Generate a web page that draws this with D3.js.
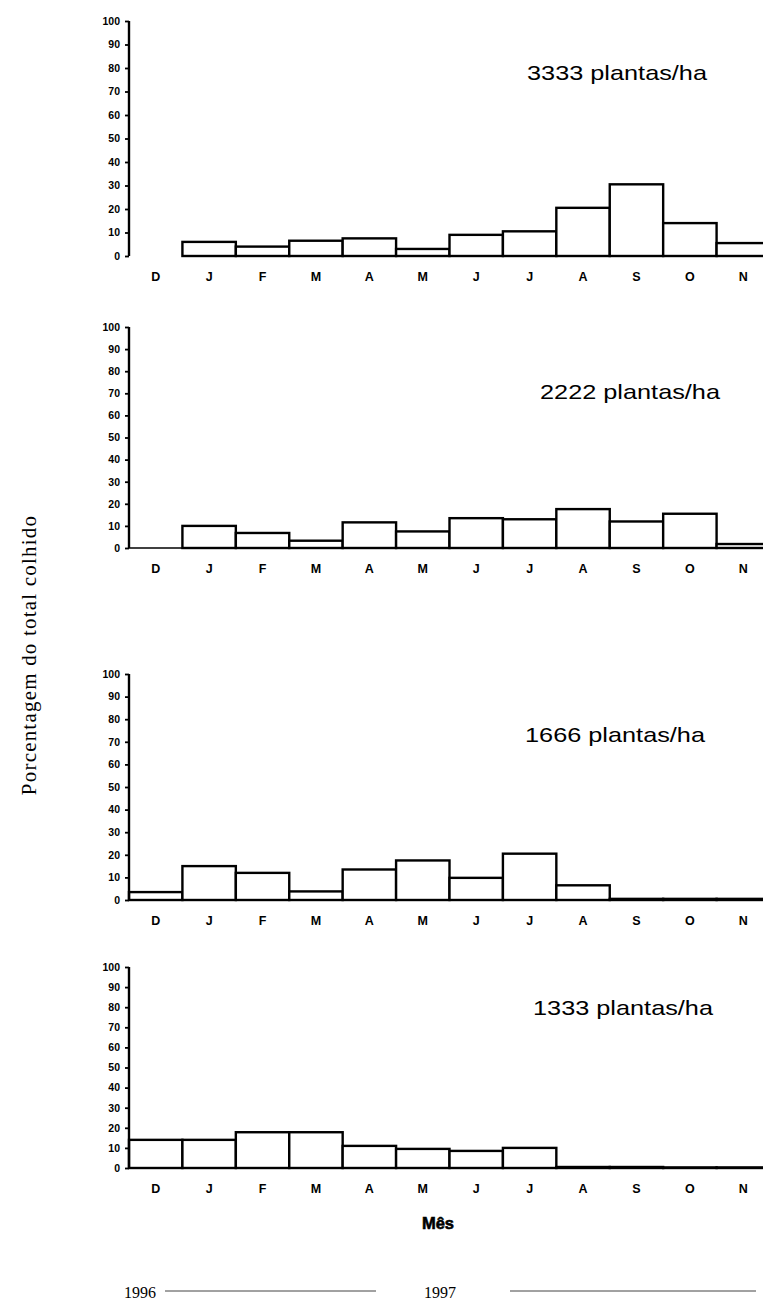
<!DOCTYPE html>
<html>
<head>
<meta charset="utf-8">
<script src="https://cdn.jsdelivr.net/npm/d3@7"></script>
<style>
  body { margin: 0; background: #fff; }
  text { fill: #000; }
</style>
</head>
<body>
<svg id="chart" width="763" height="1305"></svg>
<script>
// data (% of total harvested per month)
const months = ["D", "J", "F", "M", "A", "M", "J", "J", "A", "S", "O", "N"];
const densities = ["3333 plantas/ha", "2222 plantas/ha", "1666 plantas/ha", "1333 plantas/ha"];
const pct3333 = [0, 6, 4, 6.5, 7.5, 3, 9, 10.5, 20.5, 30.5, 14, 5.5];
const pct2222 = [0, 10, 6.8, 3.3, 11.6, 7.5, 13.5, 13, 17.6, 12, 15.5, 1.8];
const pct1666 = [3.5, 15, 12, 3.8, 13.5, 17.5, 9.8, 20.5, 6.5, 0.5, 0.5, 0.5];
const pct1333 = [14, 14, 17.8, 17.8, 11, 9.5, 8.5, 10, 0.5, 0.5, 0.3, 0.3];
const yTicks = [0, 10, 20, 30, 40, 50, 60, 70, 80, 90, 100];
const years = ["1996", "1997"];

const series = [pct3333, pct2222, pct1666, pct1333];

// vertical placement of each panel (y of 100 and of 0), title position
const panels = [
  { top: 21, bottom: 256, titleX: 617, titleY: 80 },
  { top: 327, bottom: 548, titleX: 630, titleY: 399 },
  { top: 674, bottom: 900, titleX: 615, titleY: 742 },
  { top: 967, bottom: 1168, titleX: 623, titleY: 1015 }
];

const axisX = 129,
  rightX = 770,
  labelFont = "Liberation Sans, Arial, sans-serif",
  serifFont = "Liberation Serif, Times New Roman, serif";

const svg = d3.select("#chart");

const x = d3.scaleBand()
  .domain(d3.range(months.length))
  .range([axisX, rightX]);

panels.forEach((p, i) => {
  const values = series[i];
  const y = d3.scaleLinear().domain([0, 100]).range([p.bottom, p.top]);
  const g = svg.append("g");

  // baseline (none under the empty December of the first panel)
  g.append("line")
    .attr("x1", i === 0 ? x(1) : axisX).attr("x2", rightX)
    .attr("y1", y(0)).attr("y2", y(0))
    .attr("stroke", "#000")
    .attr("stroke-width", 1.5);

  // bars
  g.append("g")
    .selectAll("rect")
    .data(values.map((v, k) => ({ v, k })).filter(d => d.v > 0))
    .join("rect")
    .attr("x", d => x(d.k))
    .attr("y", d => y(d.v))
    .attr("width", x.bandwidth())
    .attr("height", d => y(0) - y(d.v))
    .attr("fill", "#fff")
    .attr("stroke", "#000")
    .attr("stroke-width", 2.4);

  // y axis
  const yAxis = d3.axisLeft(y).tickValues(yTicks).tickSize(4).tickPadding(5);
  const ya = g.append("g")
    .attr("transform", `translate(${axisX},0)`)
    .call(yAxis);
  ya.select(".domain").attr("stroke-width", 2.4).attr("d", `M0,${y(100)}V${y(0)}`);
  ya.selectAll(".tick line").attr("stroke-width", 1.8);
  ya.selectAll(".tick text")
    .attr("font-family", labelFont)
    .attr("font-weight", "bold")
    .attr("font-size", 10.5);

  // month labels
  const xAxis = d3.axisBottom(x).tickSize(0).tickPadding(0).tickFormat(k => months[k]);
  const xa = g.append("g")
    .attr("transform", `translate(0,${y(0) + 16})`)
    .call(xAxis);
  xa.select(".domain").remove();
  xa.selectAll(".tick text")
    .attr("font-family", labelFont)
    .attr("font-weight", "bold")
    .attr("font-size", 12.5);

  // density label
  g.append("text")
    .attr("x", p.titleX)
    .attr("y", p.titleY)
    .attr("text-anchor", "middle")
    .attr("font-family", labelFont)
    .attr("font-size", 21)
    .attr("textLength", 180)
    .attr("lengthAdjust", "spacingAndGlyphs")
    .text(densities[i]);
});

// x axis title
svg.append("text")
  .attr("x", 438)
  .attr("y", 1229)
  .attr("text-anchor", "middle")
  .attr("font-family", labelFont)
  .attr("font-weight", "900")
  .attr("font-size", 16.5)
  .attr("stroke", "#000")
  .attr("stroke-width", 0.6)
  .text("Mês");

// y axis title
svg.append("text")
  .attr("transform", "translate(36,655) rotate(-90)")
  .attr("text-anchor", "middle")
  .attr("font-family", serifFont)
  .attr("font-size", 21)
  .attr("letter-spacing", 1.2)
  .text("Porcentagem do total colhido");

// year markers along the bottom
const yearRow = svg.append("g").attr("font-family", serifFont);
yearRow.selectAll("text")
  .data(years)
  .join("text")
  .attr("x", (d, i) => (i === 0 ? 140 : 440))
  .attr("y", 1298)
  .attr("text-anchor", "middle")
  .attr("font-size", 16)
  .text(d => d);
yearRow.selectAll("line")
  .data([[165, 376], [510, 756]])
  .join("line")
  .attr("x1", d => d[0]).attr("x2", d => d[1])
  .attr("y1", 1291).attr("y2", 1291)
  .attr("stroke", "#444")
  .attr("stroke-width", 1);
</script>
</body>
</html>
